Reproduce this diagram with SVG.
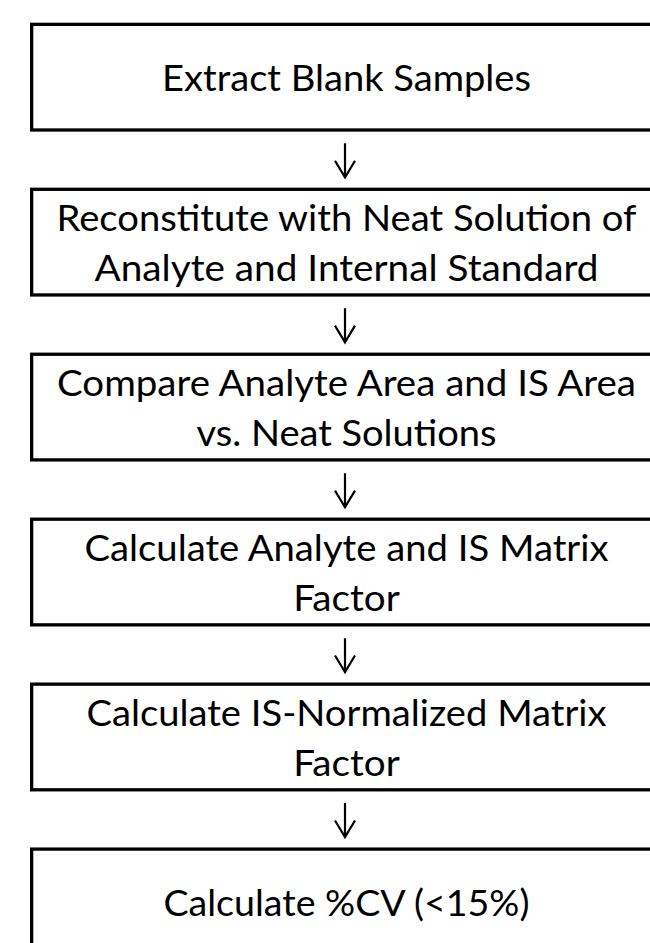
<svg xmlns="http://www.w3.org/2000/svg" width="650" height="943" viewBox="0 0 650 943">
<style>
.box{fill:#fff;stroke:#000;stroke-width:3.3}
.lbl{font-family:Lato,"Liberation Sans",sans-serif;font-size:37.5px;fill:#000;text-anchor:middle}
.arr{fill:none;stroke:#000;stroke-width:2.2;stroke-linecap:butt;stroke-linejoin:miter}
</style>
<rect width="650" height="943" fill="#fff"/>
<g id="connectors">
<path class="arr" d="M345,143.3V177.3M335,160.7L345,177.3L355,160.7"/>
<path class="arr" d="M345,308.25V342.25M335,325.65L345,342.25L355,325.65"/>
<path class="arr" d="M345,473.2V507.2M335,490.6L345,507.2L355,490.6"/>
<path class="arr" d="M345,638.15V672.15M335,655.55L345,672.15L355,655.55"/>
<path class="arr" d="M345,803.1V837.1M335,820.5L345,837.1L355,820.5"/>
</g>
<g id="node1">
<rect class="box" x="31.65" y="24.35" width="640" height="105.65"/>
<text class="lbl" x="346.5" y="91" textLength="369" lengthAdjust="spacingAndGlyphs">Extract Blank Samples</text>
</g>
<g id="node2">
<rect class="box" x="31.65" y="189.3" width="640" height="105.65"/>
<text class="lbl" x="346.5" y="231" textLength="580" lengthAdjust="spacingAndGlyphs">Reconstitute with Neat Solution of</text>
<text class="lbl" x="346.5" y="281" textLength="504" lengthAdjust="spacingAndGlyphs">Analyte and Internal Standard</text>
</g>
<g id="node3">
<rect class="box" x="31.65" y="354.25" width="640" height="105.65"/>
<text class="lbl" x="346.5" y="396" textLength="579" lengthAdjust="spacingAndGlyphs">Compare Analyte Area and IS Area</text>
<text class="lbl" x="346.5" y="446" textLength="300" lengthAdjust="spacingAndGlyphs">vs. Neat Solutions</text>
</g>
<g id="node4">
<rect class="box" x="31.65" y="519.2" width="640" height="105.65"/>
<text class="lbl" x="346.5" y="561" textLength="524" lengthAdjust="spacingAndGlyphs">Calculate Analyte and IS Matrix</text>
<text class="lbl" x="346.5" y="611" textLength="106.5" lengthAdjust="spacingAndGlyphs">Factor</text>
</g>
<g id="node5">
<rect class="box" x="31.65" y="684.15" width="640" height="105.65"/>
<text class="lbl" x="346.5" y="726" textLength="520" lengthAdjust="spacingAndGlyphs">Calculate IS-Normalized Matrix</text>
<text class="lbl" x="346.5" y="776" textLength="106.5" lengthAdjust="spacingAndGlyphs">Factor</text>
</g>
<g id="node6">
<rect class="box" x="31.65" y="849.1" width="640" height="120"/>
<text class="lbl" x="346.5" y="916" textLength="366" lengthAdjust="spacingAndGlyphs">Calculate %CV (&lt;15%)</text>
</g>
</svg>
